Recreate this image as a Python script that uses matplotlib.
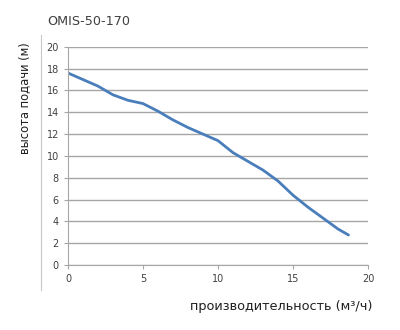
import matplotlib
matplotlib.use("Agg")
import matplotlib.pyplot as plt
from matplotlib.lines import Line2D

title = "OMIS-50-170"
x_label = "производительность (м³/ч)"
y_label = "высота подачи (м)"
flow = [0, 1, 2, 3, 4, 5, 6, 7, 8, 9, 10, 11, 12, 13, 14, 15, 16, 17, 18, 18.7]
head = [17.6, 17.0, 16.4, 15.6, 15.1, 14.8, 14.1, 13.3, 12.6, 12.0, 11.4, 10.3,
        9.5, 8.7, 7.7, 6.4, 5.3, 4.3, 3.3, 2.75]
x_ticks = [0, 5, 10, 15, 20]
y_ticks = [0, 2, 4, 6, 8, 10, 12, 14, 16, 18, 20]

fig = plt.figure(figsize=(4, 3.3), dpi=100)
ax = fig.add_axes([0.17, 0.197, 0.75, 0.661])
ax.plot(flow, head, color="#4a7ebb", lw=2.0, solid_capstyle="round")
ax.set_xlim(0, 20)
ax.set_ylim(0, 20)
ax.set_xticks(x_ticks)
ax.set_yticks(y_ticks)
ax.grid(axis="y", color="#a6a6a6", lw=1.0)
ax.set_axisbelow(True)
for s in ["top", "right"]:
    ax.spines[s].set_visible(False)
for s in ["left", "bottom"]:
    ax.spines[s].set_color("#a6a6a6")
ax.tick_params(axis="both", colors="#a6a6a6", labelcolor="#404040", labelsize=7, length=3)

fig.text(0.117, 0.935, title, fontsize=9.2, color="#404040", ha="left", va="center")
fig.text(0.062, 0.703, y_label, fontsize=8.3, color="#202020", rotation=90, ha="center", va="center")
fig.text(0.93, 0.07, x_label, fontsize=9.3, color="#202020", ha="right", va="center")
fig.add_artist(Line2D([0.102, 0.102], [0.12, 0.895], transform=fig.transFigure, color="#c8c8c8", lw=0.8))

fig.savefig("out.png", dpi=100)
